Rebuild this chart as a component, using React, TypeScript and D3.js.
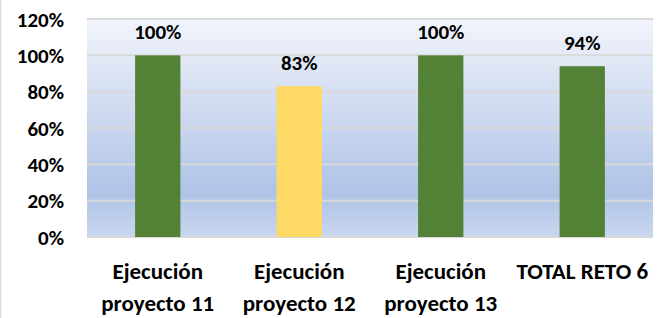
import * as d3 from 'd3';
import React, { useEffect } from 'react';

const categories = [
  ['Ejecución', 'proyecto 11'],
  ['Ejecución', 'proyecto 12'],
  ['Ejecución', 'proyecto 13'],
  ['TOTAL RETO 6'],
];
const values = [1.0, 0.83, 1.0, 0.94];
const barColors = ['#538135', '#ffd966', '#538135', '#538135'];
const yTicks = [0, 0.2, 0.4, 0.6, 0.8, 1.0, 1.2];

export default function App() {
  const ref = React.useRef<HTMLDivElement>(null);

  useEffect(() => {
    if (!ref.current) return;
    ref.current.innerHTML = '';

    const W = 668;
    const H = 318;
    const margin = { top: 19, right: 15, bottom: 81, left: 87 };
    const width = W - margin.left - margin.right;
    const height = H - margin.top - margin.bottom;
    const font = "Calibri, Carlito, Lato, sans-serif";

    const root = d3
      .select(ref.current)
      .append('svg')
      .attr('width', W)
      .attr('height', H)
      .style('display', 'block');

    root.append('rect').attr('width', W).attr('height', H).attr('fill', '#ffffff');
    root
      .append('line')
      .attr('x1', 0.5)
      .attr('x2', 0.5)
      .attr('y1', 0)
      .attr('y2', H)
      .attr('stroke', '#d9d9d9')
      .attr('stroke-width', 1.5);

    // background gradient of plot area
    const grad = root
      .append('defs')
      .append('linearGradient')
      .attr('id', 'plotbg')
      .attr('x1', 0)
      .attr('y1', 0)
      .attr('x2', 0)
      .attr('y2', 1);
    grad.append('stop').attr('offset', '0%').attr('stop-color', '#f1f4fb');
    grad.append('stop').attr('offset', '80%').attr('stop-color', '#afc3e6');
    grad.append('stop').attr('offset', '100%').attr('stop-color', '#c9d7ef');

    const svg = root.append('g').attr('transform', `translate(${margin.left},${margin.top})`);

    const x = d3
      .scaleBand<number>()
      .domain(categories.map((_, i) => i))
      .range([0, width])
      .padding(0);
    const barW = x.bandwidth() * 0.32;

    const y = d3.scaleLinear().domain([0, 1.2]).range([height, 0]);

    svg.append('rect').attr('width', width).attr('height', height).attr('fill', 'url(#plotbg)');

    // gridlines
    svg
      .selectAll('line.grid')
      .data(yTicks)
      .enter()
      .append('line')
      .attr('class', 'grid')
      .attr('x1', 0)
      .attr('x2', width)
      .attr('y1', d => y(d))
      .attr('y2', d => y(d))
      .attr('stroke', '#d9d9d9')
      .attr('stroke-width', 2);

    // y tick labels
    svg
      .selectAll('text.ytick')
      .data(yTicks)
      .enter()
      .append('text')
      .attr('class', 'ytick')
      .attr('x', -23)
      .attr('y', d => y(d))
      .attr('dy', '0.36em')
      .attr('text-anchor', 'end')
      .attr('font-family', font)
      .attr('font-weight', 'bold')
      .attr('font-size', 21)
      .attr('fill', '#000')
      .text(d => d3.format('.0%')(d));

    // bars
    svg
      .selectAll('rect.bar')
      .data(values)
      .enter()
      .append('rect')
      .attr('class', 'bar')
      .attr('x', (_, i) => (x(i) ?? 0) + x.bandwidth() / 2 - barW / 2)
      .attr('y', d => y(d))
      .attr('width', barW)
      .attr('height', d => height - y(d))
      .attr('fill', (_, i) => barColors[i]);

    // value labels
    svg
      .selectAll('text.val')
      .data(values)
      .enter()
      .append('text')
      .attr('class', 'val')
      .attr('x', (_, i) => (x(i) ?? 0) + x.bandwidth() / 2)
      .attr('y', d => y(d) - 16)
      .attr('text-anchor', 'middle')
      .attr('font-family', font)
      .attr('font-weight', 'bold')
      .attr('font-size', 21)
      .attr('fill', '#000')
      .text(d => d3.format('.0%')(d));

    // category labels
    const cat = svg
      .selectAll('text.cat')
      .data(categories)
      .enter()
      .append('text')
      .attr('class', 'cat')
      .attr('x', (_, i) => (x(i) ?? 0) + x.bandwidth() / 2)
      .attr('y', height + 42)
      .attr('text-anchor', 'middle')
      .attr('font-family', font)
      .attr('font-weight', 'bold')
      .attr('font-size', 23)
      .attr('fill', '#000');
    cat
      .selectAll('tspan')
      .data(d => d)
      .enter()
      .append('tspan')
      .attr('x', function () {
        return (this as SVGTSpanElement).parentElement!.getAttribute('x');
      })
      .attr('dy', (_, j) => (j === 0 ? 0 : 32))
      .text(d => d);
  }, []);

  return <div ref={ref} style={{ position: 'absolute', left: 0, top: 0 }}></div>;
}
